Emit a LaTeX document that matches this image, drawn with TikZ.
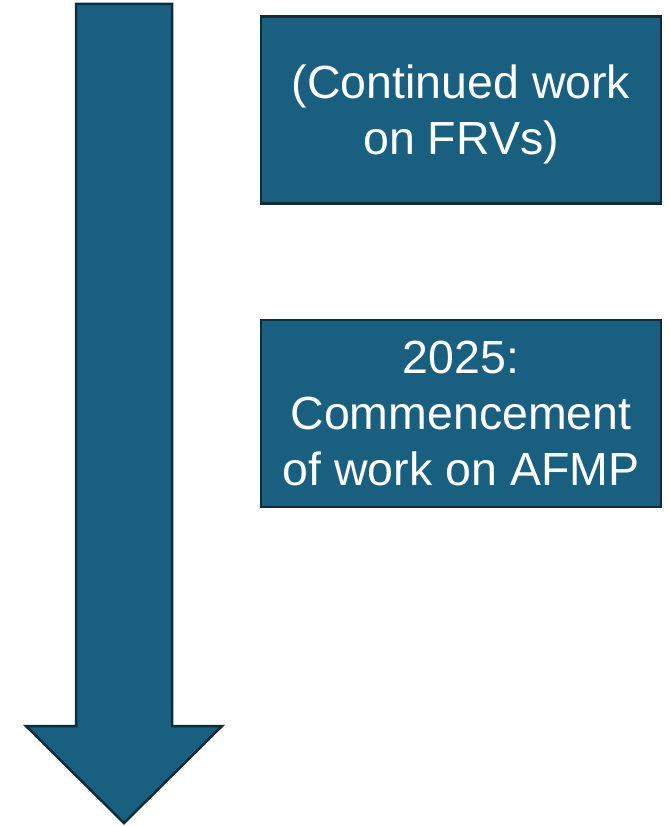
\documentclass[tikz,border=0pt]{standalone}
\usepackage{fontspec}
\setmainfont{Liberation Sans}
\definecolor{boxfill}{HTML}{195F80}
\definecolor{boxline}{HTML}{0F2C3B}
\begin{document}
\begin{tikzpicture}[x=1pt,y=-1pt,
  panel/.style={draw=boxline,line width=2.5pt,fill=boxfill,
    minimum width=400pt,minimum height=187pt,inner sep=0pt},
  paneltext/.style={text=white,align=center,
    font=\fontsize{46.5}{56}\selectfont,inner sep=0pt}]
\useasboundingbox (0,0) rectangle (669,826);
\draw[draw=boxline,line width=2.5pt,fill=boxfill,line join=miter]
  (76,4) -- (172,4) -- (172,726) -- (222,726) -- (124,823) -- (26,726) -- (76,726) -- cycle;
\node[panel] (b1) at (461,110) {};
\node[paneltext] (t1) at ([yshift=-4pt]b1.center) {(Continued work\\on FRVs)};
\node[panel] (b2) at (461,413.5) {};
\node[paneltext] (t2) at (b2.center) {2025:\\Commencement\\of work on AFMP};
\end{tikzpicture}
\end{document}
